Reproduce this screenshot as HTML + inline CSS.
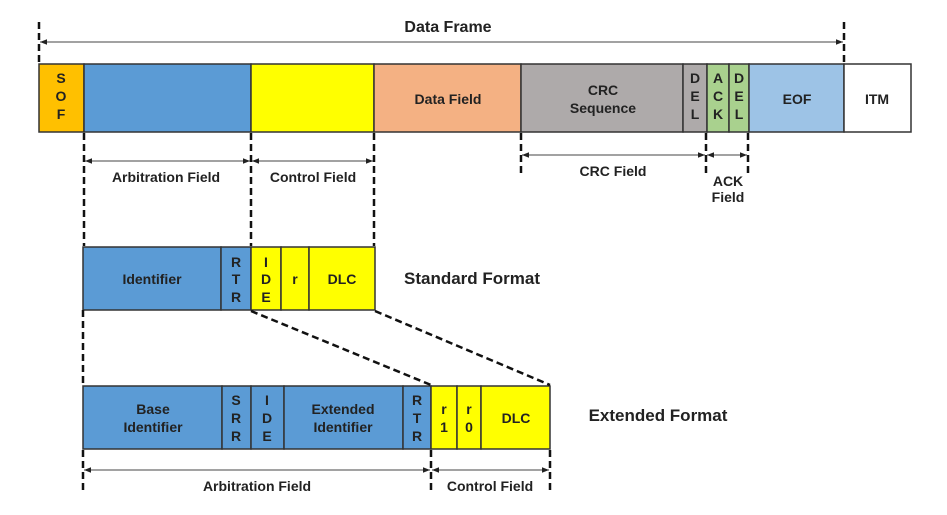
<!DOCTYPE html>
<html><head><meta charset="utf-8"><style>
html,body{margin:0;padding:0;background:#fff;}
svg{display:block;}
text{font-family:"Liberation Sans","Noto Sans CJK KR",sans-serif;font-weight:bold;fill:#222;}
</style></head><body>
<svg width="947" height="515" viewBox="0 0 947 515" xmlns="http://www.w3.org/2000/svg">
<defs>
<marker id="a" viewBox="0 0 10 10" refX="10" refY="5" markerWidth="7" markerHeight="7" orient="auto-start-reverse"><path d="M0,1 L10,5 L0,9 z" fill="#222"/></marker>
</defs>
<g stroke="#333" stroke-width="1.5">
<rect x="39" y="64" width="45" height="68" fill="#FFC000"/>
<rect x="84" y="64" width="167" height="68" fill="#5B9BD5"/>
<rect x="251" y="64" width="123" height="68" fill="#FFFF00"/>
<rect x="374" y="64" width="147" height="68" fill="#F4B183"/>
<rect x="521" y="64" width="162" height="68" fill="#AEAAAA"/>
<rect x="683" y="64" width="24" height="68" fill="#AEAAAA"/>
<rect x="707" y="64" width="22" height="68" fill="#A9D18E"/>
<rect x="729" y="64" width="20" height="68" fill="#A9D18E"/>
<rect x="749" y="64" width="95" height="68" fill="#9DC3E6"/>
<rect x="844" y="64" width="67" height="68" fill="#fff"/>
<rect x="83" y="247" width="138" height="63" fill="#5B9BD5"/>
<rect x="221" y="247" width="30" height="63" fill="#5B9BD5"/>
<rect x="251" y="247" width="30" height="63" fill="#FFFF00"/>
<rect x="281" y="247" width="28" height="63" fill="#FFFF00"/>
<rect x="309" y="247" width="66" height="63" fill="#FFFF00"/>
<rect x="83" y="386" width="139" height="63" fill="#5B9BD5"/>
<rect x="222" y="386" width="29" height="63" fill="#5B9BD5"/>
<rect x="251" y="386" width="33" height="63" fill="#5B9BD5"/>
<rect x="284" y="386" width="119" height="63" fill="#5B9BD5"/>
<rect x="403" y="386" width="28" height="63" fill="#5B9BD5"/>
<rect x="431" y="386" width="26" height="63" fill="#FFFF00"/>
<rect x="457" y="386" width="24" height="63" fill="#FFFF00"/>
<rect x="481" y="386" width="69" height="63" fill="#FFFF00"/>
</g>
<g stroke="#111" stroke-width="2.5" stroke-dasharray="7,4" fill="none">
<line x1="39" y1="22" x2="39" y2="63"/>
<line x1="844" y1="22" x2="844" y2="63"/>
<line x1="84" y1="133" x2="84" y2="246"/>
<line x1="251" y1="133" x2="251" y2="246"/>
<line x1="374" y1="133" x2="374" y2="246"/>
<line x1="521" y1="133" x2="521" y2="176"/>
<line x1="706" y1="133" x2="706" y2="176"/>
<line x1="748" y1="133" x2="748" y2="176"/>
<line x1="83" y1="310" x2="83" y2="385"/>
<line x1="83" y1="450" x2="83" y2="492"/>
<line x1="431" y1="450" x2="431" y2="492"/>
<line x1="550" y1="450" x2="550" y2="492"/>
<line x1="251" y1="311" x2="431" y2="385"/>
<line x1="375" y1="311" x2="550" y2="385"/>
</g>
<g stroke="#444" stroke-width="1" marker-start="url(#a)" marker-end="url(#a)">
<line x1="40" y1="42" x2="843" y2="42"/>
<line x1="85" y1="161" x2="250" y2="161"/>
<line x1="252" y1="161" x2="373" y2="161"/>
<line x1="522" y1="155" x2="705" y2="155"/>
<line x1="707" y1="155" x2="747" y2="155"/>
<line x1="84" y1="470" x2="430" y2="470"/>
<line x1="432" y1="470" x2="549" y2="470"/>
</g>
<g font-size="14" text-anchor="middle">
<text x="448" y="32" font-size="16">Data Frame</text>
<text x="61" y="83">S</text><text x="61" y="101">O</text><text x="61" y="119">F</text>
<text x="448" y="104">Data Field</text>
<text x="603" y="95">CRC</text><text x="603" y="113">Sequence</text>
<text x="695" y="83">D</text><text x="695" y="101">E</text><text x="695" y="119">L</text>
<text x="718" y="83">A</text><text x="718" y="101">C</text><text x="718" y="119">K</text>
<text x="739" y="83">D</text><text x="739" y="101">E</text><text x="739" y="119">L</text>
<text x="797" y="104">EOF</text>
<text x="877" y="104">ITM</text>
<text x="166" y="182">Arbitration Field</text>
<text x="313" y="182">Control Field</text>
<text x="613" y="176">CRC Field</text>
<text x="728" y="186">ACK</text><text x="728" y="202">Field</text>
<text x="152" y="284">Identifier</text>
<text x="236" y="267">R</text><text x="236" y="284">T</text><text x="236" y="302">R</text>
<text x="266" y="267">I</text><text x="266" y="284">D</text><text x="266" y="302">E</text>
<text x="295" y="284">r</text>
<text x="342" y="284">DLC</text>
<text x="472" y="284" font-size="17">Standard Format</text>
<text x="153" y="414">Base</text><text x="153" y="432">Identifier</text>
<text x="236" y="405">S</text><text x="236" y="423">R</text><text x="236" y="441">R</text>
<text x="267" y="405">I</text><text x="267" y="423">D</text><text x="267" y="441">E</text>
<text x="343" y="414">Extended</text><text x="343" y="432">Identifier</text>
<text x="417" y="405">R</text><text x="417" y="423">T</text><text x="417" y="441">R</text>
<text x="444" y="414">r</text><text x="444" y="432">1</text>
<text x="469" y="414">r</text><text x="469" y="432">0</text>
<text x="516" y="423">DLC</text>
<text x="658" y="421" font-size="17">Extended Format</text>
<text x="257" y="491">Arbitration Field</text>
<text x="490" y="491">Control Field</text>
</g>
</svg>
</body></html>
